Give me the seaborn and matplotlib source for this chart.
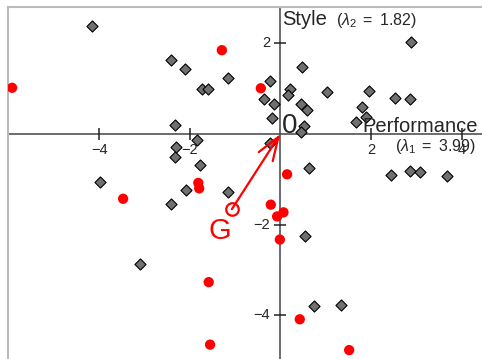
import matplotlib
matplotlib.use("Agg")
import matplotlib.pyplot as plt
import seaborn as sns
import pandas as pd

# ---- data ----
diamond_x = [-4.16, -2.42, -2.10, -1.15, -1.72, -1.60, -2.32, -1.84, -2.31, -2.32,
             -1.77, -3.98, -2.09, -2.42, -1.15, -3.10, 2.89, 0.49, -0.23, 0.21,
             0.18, 1.04, 1.96, 2.54, 2.86, -0.37, -0.15, 0.46, 0.58, 1.80,
             1.90, 1.67, -0.18, 0.53, 0.46, -0.23, 0.64, 2.44, 2.86, 3.09,
             3.68, 0.55, 0.75, 1.35]
diamond_y = [2.38, 1.63, 1.43, 1.24, 0.99, 0.99, 0.19, -0.13, -0.28, -0.50,
             -0.68, -1.05, -1.23, -1.54, -1.27, -2.88, 2.02, 1.49, 1.17, 0.99,
             0.85, 0.92, 0.96, 0.79, 0.77, 0.77, 0.66, 0.66, 0.52, 0.60,
             0.38, 0.26, 0.35, 0.18, 0.04, -0.19, -0.74, -0.91, -0.81, -0.83,
             -0.92, -2.25, -3.80, -3.77]
red_x = [-1.29, -5.92, -1.81, -1.79, -3.47, -1.58, -1.55, -0.43, 0.15, -0.21,
         -0.07, 0.07, -0.01, 0.43, 1.52]
red_y = [1.85, 1.02, -1.08, -1.20, -1.43, -3.27, -4.65, 1.01, -0.89, -1.56,
         -1.82, -1.73, -2.33, -4.09, -4.77]
g_point = (-1.07, -1.66)
x_ticks = [-4, -2, 2, 4]
y_ticks = [2, -2, -4]
x_label_main = "Performance"
x_label_sub = r"$(\mathit{\lambda}_1\ =\ 3.99)$"
y_label_main = "Style"
y_label_sub = r"$(\mathit{\lambda}_2\ =\ 1.82)$"

sns.set_style("white")
plt.rcParams['font.family'] = ['Liberation Sans', 'DejaVu Sans']
plt.rcParams['mathtext.fontset'] = 'custom'
plt.rcParams['mathtext.rm'] = 'Liberation Sans'
plt.rcParams['mathtext.it'] = 'Liberation Sans:italic'
plt.rcParams['mathtext.default'] = 'rm'

W, H = 482, 359
fig = plt.figure(figsize=(W / 100, H / 100), dpi=100)
left_px, top_px = 8, 6.7
ax = fig.add_axes([left_px / W, 0, 1 - left_px / W, 1 - top_px / H])

ox, oy, scale = 280.3, 134.0, 45.3
ax.set_xlim((left_px - ox) / scale, (W - ox) / scale)
ax.set_ylim((oy - H) / scale, (oy - top_px) / scale)

for s in ['right', 'bottom']:
    ax.spines[s].set_visible(False)
for s in ['left', 'top']:
    ax.spines[s].set_color('#bbbbbb')
    ax.spines[s].set_linewidth(1.5)
ax.set_xticks([])
ax.set_yticks([])

# axes through origin
ax.axhline(0, color='#444444', lw=1.1, zorder=1)
ax.axvline(0, color='#444444', lw=1.1, zorder=1)
ax.plot(x_ticks, [0] * len(x_ticks), ls='none', marker='|', ms=9, mew=1.1,
        color='#222222', zorder=1)
ax.plot([0] * len(y_ticks), y_ticks, ls='none', marker='_', ms=9, mew=1.1,
        color='#222222', zorder=1)
for t in x_ticks:
    ax.annotate(f"{t}".replace('-', '\u2212'), (t, 0), xytext=(0, -16),
                textcoords='offset pixels', ha='center', va='center', fontsize=10.5)
for t in y_ticks:
    ax.annotate(f"{t}".replace('-', '\u2212'), (0, t), xytext=(-10, 0),
                textcoords='offset pixels', ha='right', va='center', fontsize=10.5)

dfd = pd.DataFrame({'x': diamond_x, 'y': diamond_y})
dfr = pd.DataFrame({'x': red_x, 'y': red_y})
sns.scatterplot(data=dfd, x='x', y='y', marker='D', s=32, color='#707070',
                edgecolor='black', linewidth=0.8, ax=ax, zorder=3)
sns.scatterplot(data=dfr, x='x', y='y', marker='o', s=55, color='#ff0000',
                edgecolor='none', linewidth=0, ax=ax, zorder=4)

# G point and arrow
ax.plot([g_point[0]], [g_point[1]], marker='o', ms=9, mfc='none', mec='#ff0000',
        mew=1.6, ls='none', zorder=5)
ax.annotate("", xy=(0, 0), xytext=g_point,
            arrowprops=dict(arrowstyle='->,head_length=1.7,head_width=0.6',
                            color='#ff0000', lw=1.6, shrinkA=0, shrinkB=0),
            zorder=5)
ax.annotate("G", g_point, xytext=(-12, -22), textcoords='offset pixels',
            ha='center', va='center', fontsize=21, color='#ff0000')

# labels
ax.annotate("0", (0, 0), xytext=(2, 1), textcoords='offset pixels',
            ha='left', va='baseline', fontsize=20)
ax.annotate(y_label_main, (0, 0), xytext=(2, 109), textcoords='offset pixels',
            ha='left', va='baseline', fontsize=14.5)
ax.annotate(y_label_sub, (0, 0), xytext=(56, 109), textcoords='offset pixels',
            ha='left', va='baseline', fontsize=11.5)
ax.annotate(x_label_main, (0, 0), xytext=(82, 1.5), textcoords='offset pixels',
            ha='left', va='baseline', fontsize=14.5)
ax.annotate(x_label_sub, (0, 0), xytext=(115, -17.5), textcoords='offset pixels',
            ha='left', va='baseline', fontsize=11.5)

fig.savefig("out.png", dpi=100)
